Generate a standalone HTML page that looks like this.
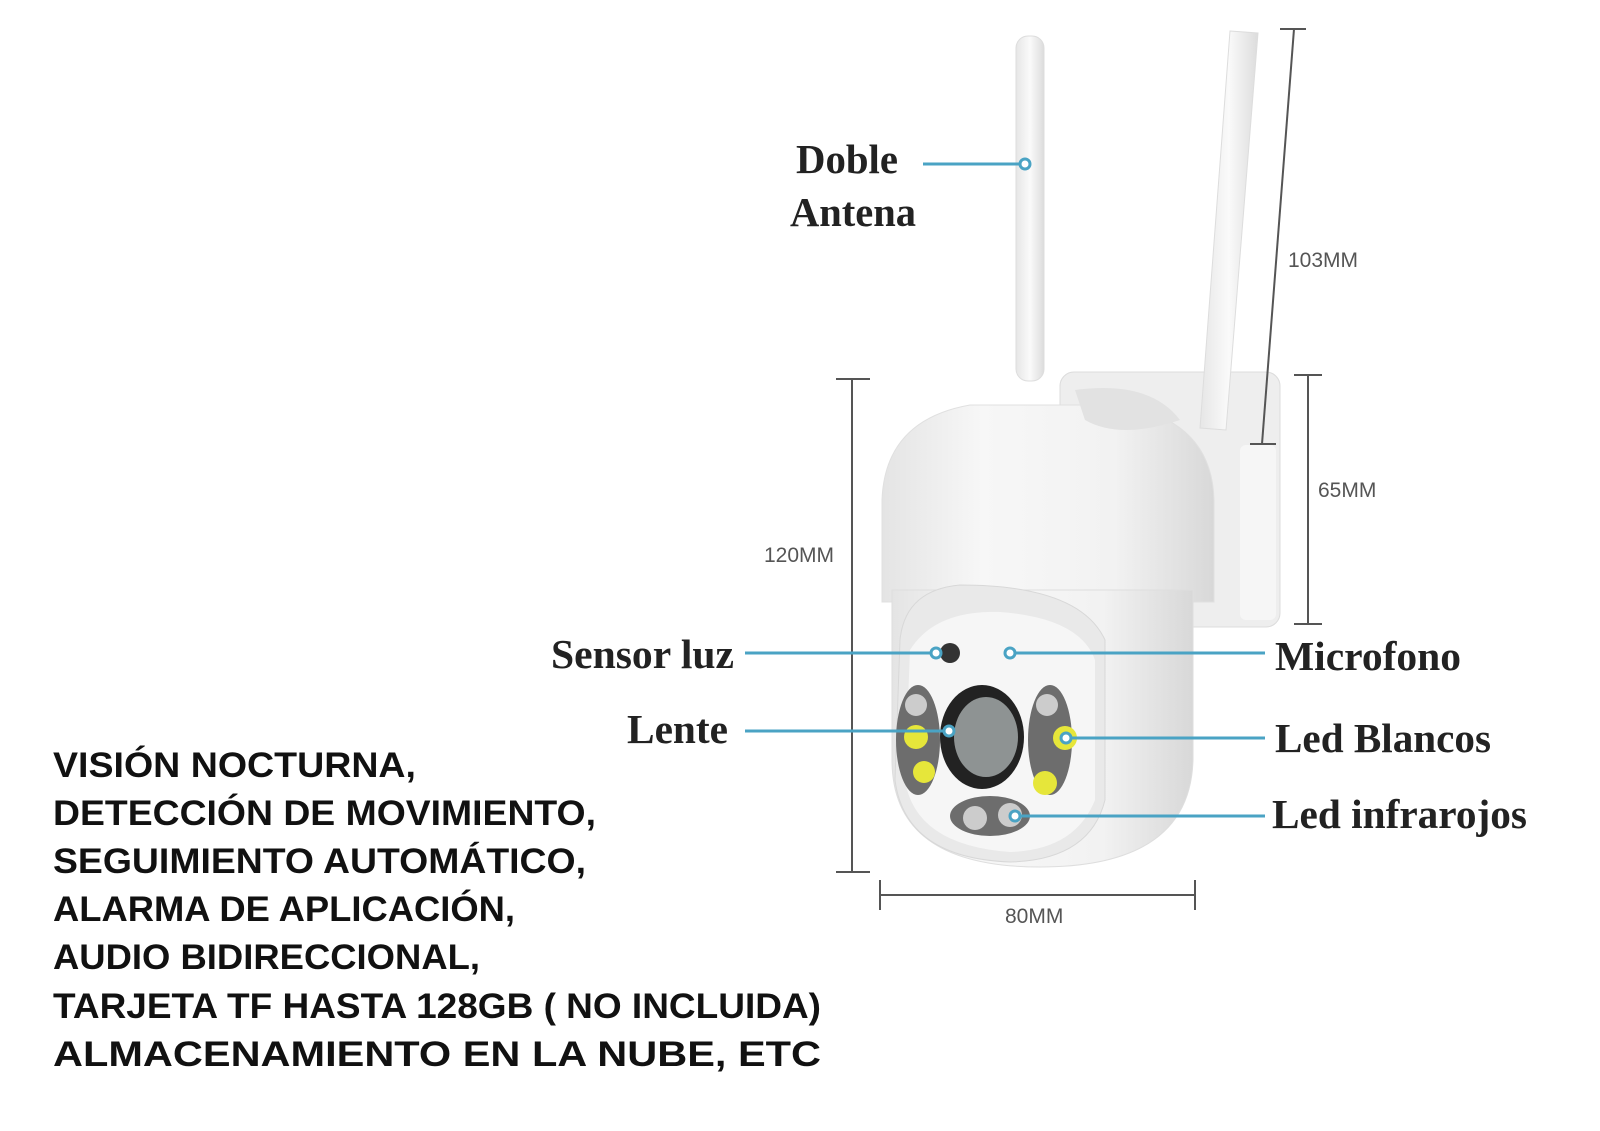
<!DOCTYPE html>
<html><head><meta charset="utf-8"><style>
html,body{margin:0;padding:0;background:#fff;}
svg{display:block}
.lbl{font-family:"Liberation Serif",serif;font-weight:bold;font-size:41px;fill:#222;}
.dim{font-family:"Liberation Sans",sans-serif;font-size:21px;fill:#555;}
.bt{font-family:"Liberation Sans",sans-serif;font-weight:bold;font-size:35px;fill:#111;}
</style></head><body>
<svg width="1600" height="1131" viewBox="0 0 1600 1131" xmlns="http://www.w3.org/2000/svg">
<defs>
<linearGradient id="head" x1="0" y1="0" x2="1" y2="0">
<stop offset="0" stop-color="#e4e4e4"/><stop offset="0.3" stop-color="#f7f7f7"/><stop offset="0.7" stop-color="#f2f2f2"/><stop offset="1" stop-color="#d8d8d8"/></linearGradient>
<linearGradient id="ant" x1="0" y1="0" x2="1" y2="0">
<stop offset="0" stop-color="#e6e6e6"/><stop offset="0.5" stop-color="#fafafa"/><stop offset="1" stop-color="#dcdcdc"/></linearGradient>
</defs>
<rect x="1060" y="372" width="220" height="255" rx="14" fill="#eeeeee" stroke="#dcdcdc"/>
<rect x="1240" y="445" width="36" height="175" rx="6" fill="#f6f6f6"/>
<rect x="1016" y="36" width="28" height="345" rx="12" fill="url(#ant)" stroke="#ddd"/>
<path d="M1230 31 L1258 33 L1226 430 L1200 428 Z" fill="url(#ant)" stroke="#ddd"/>
<path d="M882 602 L882 500 Q885 420 970 405 L1120 405 Q1212 420 1214 500 L1214 602 Z" fill="url(#head)" stroke="#e0e0e0"/>
<path d="M1075 390 Q1150 380 1180 420 Q1120 440 1085 420 Z" fill="#e2e2e2"/>
<path d="M892 590 L1193 590 L1193 760 Q1190 867 1040 867 Q892 867 892 760 Z" fill="url(#head)" stroke="#dedede"/>
<path d="M900 640 Q905 590 960 585 Q1080 585 1105 640 L1105 800 Q1090 860 1010 862 Q905 858 895 780 Z" fill="#e9e9e9" stroke="#d8d8d8"/>
<path d="M910 650 Q935 610 1000 612 Q1080 618 1095 660 L1095 800 Q1075 850 1010 852 Q915 845 905 780 Z" fill="#f6f6f6"/>
<ellipse cx="918" cy="740" rx="22" ry="55" fill="#6d6d6d"/>
<ellipse cx="1050" cy="740" rx="22" ry="55" fill="#6d6d6d"/>
<ellipse cx="990" cy="816" rx="40" ry="20" fill="#6d6d6d"/>
<circle cx="916" cy="705" r="11" fill="#ccc"/><circle cx="916" cy="737" r="12" fill="#e6e63a"/><circle cx="924" cy="772" r="11" fill="#e6e63a"/>
<circle cx="1047" cy="705" r="11" fill="#ccc"/><circle cx="1065" cy="738" r="12" fill="#e6e63a"/><circle cx="1045" cy="783" r="12" fill="#e6e63a"/>
<circle cx="975" cy="818" r="12" fill="#ccc"/><circle cx="1010" cy="815" r="12" fill="#ccc"/>
<ellipse cx="982" cy="737" rx="42" ry="52" fill="#222"/>
<ellipse cx="986" cy="737" rx="32" ry="40" fill="#8e9393"/>
<circle cx="950" cy="653" r="10" fill="#333"/>
<g stroke="#555" stroke-width="2" fill="none">
<line x1="1294" y1="29" x2="1262" y2="444"/><line x1="1280" y1="29" x2="1306" y2="29"/><line x1="1250" y1="444" x2="1276" y2="444"/>
<line x1="1308" y1="375" x2="1308" y2="624"/><line x1="1294" y1="375" x2="1322" y2="375"/><line x1="1294" y1="624" x2="1322" y2="624"/>
<line x1="852" y1="379" x2="852" y2="872"/><line x1="836" y1="379" x2="870" y2="379"/><line x1="836" y1="872" x2="870" y2="872"/>
<line x1="880" y1="895" x2="1195" y2="895"/><line x1="880" y1="880" x2="880" y2="910"/><line x1="1195" y1="880" x2="1195" y2="910"/>
</g>
<text class="dim" x="1288" y="267">103MM</text>
<text class="dim" x="1318" y="497">65MM</text>
<text class="dim" x="764" y="562">120MM</text>
<text class="dim" x="1005" y="923">80MM</text>
<g stroke="#4aa3c4" stroke-width="3" fill="none">
<line x1="923" y1="164" x2="1021" y2="164"/>
<line x1="745" y1="653" x2="932" y2="653"/>
<line x1="745" y1="731" x2="945" y2="731"/>
<line x1="1014" y1="653" x2="1265" y2="653"/>
<line x1="1070" y1="738" x2="1265" y2="738"/>
<line x1="1019" y1="816" x2="1265" y2="816"/>
</g>
<g fill="#fff" stroke="#4aa3c4" stroke-width="3">
<circle cx="1025" cy="164" r="5"/><circle cx="936" cy="653" r="5"/><circle cx="949" cy="731" r="5"/>
<circle cx="1010" cy="653" r="5"/><circle cx="1066" cy="738" r="5"/><circle cx="1015" cy="816" r="5"/>
</g>
<g class="lbl">
<text x="796" y="173" textLength="102" lengthAdjust="spacingAndGlyphs">Doble</text>
<text x="790" y="226" textLength="126" lengthAdjust="spacingAndGlyphs">Antena</text>
<text x="551" y="668" textLength="183" lengthAdjust="spacingAndGlyphs">Sensor luz</text>
<text x="627" y="743" textLength="101" lengthAdjust="spacingAndGlyphs">Lente</text>
<text x="1275" y="670" textLength="186" lengthAdjust="spacingAndGlyphs">Microfono</text>
<text x="1275" y="752" textLength="216" lengthAdjust="spacingAndGlyphs">Led Blancos</text>
<text x="1272" y="828" textLength="255" lengthAdjust="spacingAndGlyphs">Led infrarojos</text>
</g>
<g class="bt">
<text x="53" y="777" textLength="363" lengthAdjust="spacingAndGlyphs">VISIÓN NOCTURNA,</text>
<text x="53" y="825" textLength="543" lengthAdjust="spacingAndGlyphs">DETECCIÓN DE MOVIMIENTO,</text>
<text x="53" y="873" textLength="533" lengthAdjust="spacingAndGlyphs">SEGUIMIENTO AUTOMÁTICO,</text>
<text x="53" y="921" textLength="462" lengthAdjust="spacingAndGlyphs">ALARMA DE APLICACIÓN,</text>
<text x="53" y="969" textLength="427" lengthAdjust="spacingAndGlyphs">AUDIO BIDIRECCIONAL,</text>
<text x="53" y="1018" textLength="768" lengthAdjust="spacingAndGlyphs">TARJETA TF HASTA 128GB ( NO INCLUIDA)</text>
<text x="53" y="1066" textLength="768" lengthAdjust="spacingAndGlyphs">ALMACENAMIENTO EN LA NUBE, ETC</text>
</g>
</svg>
</body></html>
